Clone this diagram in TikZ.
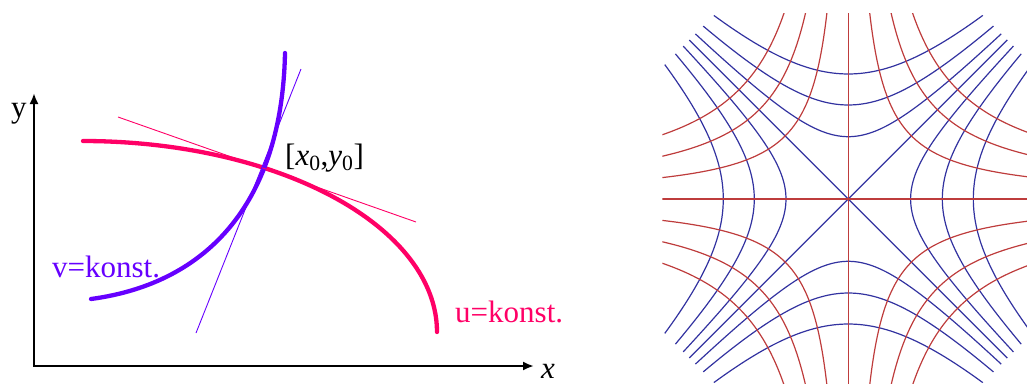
\documentclass[tikz,border=0pt]{standalone}
\usepackage{fontspec}
\setmainfont{Liberation Serif}
\usetikzlibrary{arrows.meta}
\definecolor{upink}{RGB}{255,0,102}
\definecolor{vviolet}{RGB}{102,0,255}
\definecolor{gridblue}{RGB}{50,50,160}
\definecolor{gridred}{RGB}{190,60,60}
\begin{document}
\begin{tikzpicture}[x=1pt,y=-1pt,
  axisline/.style={line width=2.8pt, black, line join=miter,
    {Latex[length=11pt,width=9pt]}-{Latex[length=11pt,width=9pt]}},
  ucurve/.style={line width=4.3pt, upink, line cap=round},
  vcurve/.style={line width=4.3pt, vviolet, line cap=round},
  utangent/.style={line width=0.9pt, upink},
  vtangent/.style={line width=0.9pt, vviolet},
  lbl/.style={font=\fontsize{31}{37}\selectfont, inner sep=0pt, anchor=base west},
  bl/.style={gridblue, line width=1.2pt},
  rd/.style={gridred, line width=1.2pt}]
\useasboundingbox (0,0) rectangle (1027,383);

% ---------- left diagram ----------
\coordinate (O) at (34,366);
\coordinate (Ytip) at (34,93);
\coordinate (Xtip) at (534,366);
\draw[axisline] (Ytip) -- (O) -- (Xtip);
\node[lbl] (ylab) at (11,117) {y};
\node[lbl] (xlab) at (541,378) {\textit{x}};

% u = konst. (pink)
\draw[ucurve] plot[domain=90:0, samples=60, smooth, variable=\t]
  ({83+354*cos(\t)},{332-191*sin(\t)});
% v = konst. (violet)
\coordinate (vs) at (91,299);
\coordinate (ve) at (285,53);
\draw[vcurve] (vs) .. controls (210,283) and (282,200) .. (ve);

% tangents
\coordinate (ut1) at (118,117);
\coordinate (ut2) at (416,222);
\coordinate (vt1) at (196,333);
\coordinate (vt2) at (301,69);
\draw[utangent] (ut1) -- (ut2);
\draw[vtangent] (vt1) -- (vt2);

\node[lbl] (P) at (285,165) {[\textit{x}\textsubscript{0},\textit{y}\textsubscript{0}]};
\node[lbl, text=vviolet] (vlab) at (52,277) {v=konst.};
\node[lbl, text=upink] (ulab) at (455,322) {u=konst.};

% ---------- right diagram ----------
\begin{scope}[shift={(848.3,199)}]
  \clip (-186,-132) -- (-132,-186) -- (132,-186) -- (178.7,-139.3)
     -- (178.7,139.3) -- (132,186) -- (-132,186) -- (-186,132) -- cycle;
  \foreach \a in {62.3,94,125} {
    \draw[bl] plot[domain=-2.1:2.1, samples=70, smooth, variable=\t]
      ({\a*cosh(\t)},{\a*sinh(\t)});
    \draw[bl] plot[domain=-2.1:2.1, samples=70, smooth, variable=\t]
      ({-\a*cosh(\t)},{\a*sinh(\t)});
    \draw[bl] plot[domain=-2.1:2.1, samples=70, smooth, variable=\t]
      ({\a*sinh(\t)},{\a*cosh(\t)});
    \draw[bl] plot[domain=-2.1:2.1, samples=70, smooth, variable=\t]
      ({\a*sinh(\t)},{-\a*cosh(\t)});
  }
  \coordinate (d1) at (-200,-200);
  \coordinate (d2) at (200,200);
  \coordinate (d3) at (-200,200);
  \coordinate (d4) at (200,-200);
  \draw[bl] (d1) -- (d2);
  \draw[bl] (d3) -- (d4);
  \foreach \s in {63.1,89.2,109.3} {
    \draw[rd] plot[domain=-1.3:1.3, samples=60, smooth, variable=\t]
      ({\s*exp(\t)},{\s*exp(-\t)});
    \draw[rd] plot[domain=-1.3:1.3, samples=60, smooth, variable=\t]
      ({-\s*exp(\t)},{\s*exp(-\t)});
    \draw[rd] plot[domain=-1.3:1.3, samples=60, smooth, variable=\t]
      ({\s*exp(\t)},{-\s*exp(-\t)});
    \draw[rd] plot[domain=-1.3:1.3, samples=60, smooth, variable=\t]
      ({-\s*exp(\t)},{-\s*exp(-\t)});
  }
  \coordinate (h1) at (-200,0);
  \coordinate (h2) at (200,0);
  \coordinate (w1) at (0,-200);
  \coordinate (w2) at (0,200);
  \draw[rd] (h1) -- (h2);
  \draw[rd] (w1) -- (w2);
\end{scope}
\end{tikzpicture}
\end{document}
